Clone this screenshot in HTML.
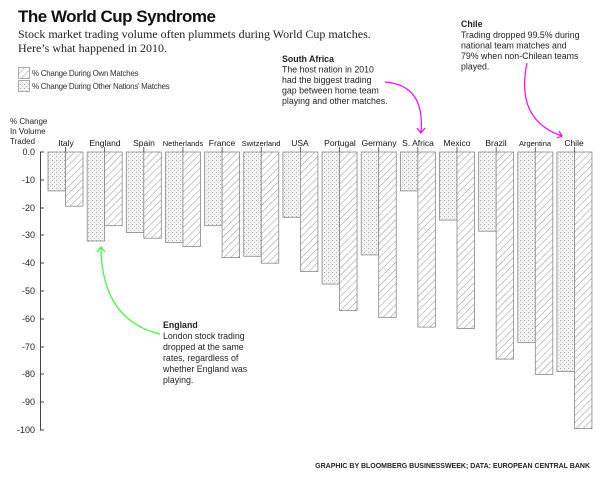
<!DOCTYPE html>
<html><head><meta charset="utf-8"><style>
body{margin:0;background:#fff;}
svg{display:block;font-family:"Liberation Sans",sans-serif;}
</style></head><body>
<svg width="600" height="480" viewBox="0 0 600 480" xmlns="http://www.w3.org/2000/svg">
<defs>
<pattern id="dots" width="4" height="4" patternUnits="userSpaceOnUse">
<rect width="4" height="4" fill="#f3f3f3"/>
<rect x="0" y="0" width="1" height="1" fill="#aaa"/>
<rect x="2" y="2" width="1" height="1" fill="#c4c4c4"/>
</pattern>
<pattern id="hatch" width="5" height="5" patternUnits="userSpaceOnUse" patternTransform="rotate(45)">
<rect width="5" height="5" fill="#fff"/>
<line x1="0" y1="0" x2="0" y2="5" stroke="#999" stroke-width="1.1"/>
</pattern>
</defs>
<text x="18" y="22" font-size="17" font-weight="bold" fill="#111" letter-spacing="-0.5">The World Cup Syndrome</text>
<text x="18" y="38" font-size="12" font-family="Liberation Serif, serif" fill="#222">Stock market trading volume often plummets during World Cup matches.</text>
<text x="18" y="52" font-size="12" font-family="Liberation Serif, serif" fill="#222">Here’s what happened in 2010.</text>
<rect x="18.5" y="67.5" width="11" height="11" fill="url(#hatch)" stroke="#aaa"/>
<rect x="18.5" y="80.5" width="11" height="11" fill="url(#dots)" stroke="#aaa"/>
<text x="32" y="76" font-size="8" fill="#333" letter-spacing="-0.3">% Change During Own Matches</text>
<text x="32" y="89" font-size="8" fill="#333" letter-spacing="-0.3">% Change During Other Nations' Matches</text>

<g font-size="8" fill="#222">
<text x="10" y="124">% Change</text>
<text x="10" y="134">In Volume</text>
<text x="10" y="144">Traded</text>
</g>
<line x1="40.5" y1="152" x2="40.5" y2="430" stroke="#444"/>
<g font-size="9" fill="#222" text-anchor="end">
<text x="35" y="155">0.0</text><text x="35" y="183">-10</text><text x="35" y="211">-20</text><text x="35" y="238">-30</text><text x="35" y="266">-40</text><text x="35" y="294">-50</text><text x="35" y="322">-60</text><text x="35" y="350">-70</text><text x="35" y="377">-80</text><text x="35" y="405">-90</text><text x="35" y="433">-100</text>
</g>
<g stroke="#444">
<line x1="40" y1="152" x2="44" y2="152"/><line x1="40" y1="180" x2="44" y2="180"/><line x1="40" y1="208" x2="44" y2="208"/><line x1="40" y1="235" x2="44" y2="235"/><line x1="40" y1="263" x2="44" y2="263"/><line x1="40" y1="291" x2="44" y2="291"/><line x1="40" y1="319" x2="44" y2="319"/><line x1="40" y1="347" x2="44" y2="347"/><line x1="40" y1="374" x2="44" y2="374"/><line x1="40" y1="402" x2="44" y2="402"/><line x1="40" y1="430" x2="44" y2="430"/>
</g>

<g stroke="#888" stroke-width="0.8">
<rect x="48" y="152" width="17.5" height="38.9" fill="url(#dots)"/><rect x="65.5" y="152" width="17.5" height="54.2" fill="url(#hatch)"/>
<rect x="87.15" y="152" width="17.5" height="89.0" fill="url(#dots)"/><rect x="104.65" y="152" width="17.5" height="73.7" fill="url(#hatch)"/>
<rect x="126.3" y="152" width="17.5" height="80.6" fill="url(#dots)"/><rect x="143.8" y="152" width="17.5" height="86.2" fill="url(#hatch)"/>
<rect x="165.45" y="152" width="17.5" height="90.4" fill="url(#dots)"/><rect x="182.95" y="152" width="17.5" height="94.5" fill="url(#hatch)"/>
<rect x="204.6" y="152" width="17.5" height="73.7" fill="url(#dots)"/><rect x="222.1" y="152" width="17.5" height="105.6" fill="url(#hatch)"/>
<rect x="243.75" y="152" width="17.5" height="104.3" fill="url(#dots)"/><rect x="261.25" y="152" width="17.5" height="111.2" fill="url(#hatch)"/>
<rect x="282.9" y="152" width="17.5" height="65.3" fill="url(#dots)"/><rect x="300.4" y="152" width="17.5" height="119.5" fill="url(#hatch)"/>
<rect x="322.05" y="152" width="17.5" height="132.1" fill="url(#dots)"/><rect x="339.55" y="152" width="17.5" height="158.5" fill="url(#hatch)"/>
<rect x="361.2" y="152" width="17.5" height="102.9" fill="url(#dots)"/><rect x="378.7" y="152" width="17.5" height="165.4" fill="url(#hatch)"/>
<rect x="400.35" y="152" width="17.5" height="38.9" fill="url(#dots)"/><rect x="417.85" y="152" width="17.5" height="175.1" fill="url(#hatch)"/>
<rect x="439.5" y="152" width="17.5" height="68.1" fill="url(#dots)"/><rect x="457" y="152" width="17.5" height="176.5" fill="url(#hatch)"/>
<rect x="478.65" y="152" width="17.5" height="79.2" fill="url(#dots)"/><rect x="496.15" y="152" width="17.5" height="207.1" fill="url(#hatch)"/>
<rect x="517.8" y="152" width="17.5" height="190.4" fill="url(#dots)"/><rect x="535.3" y="152" width="17.5" height="222.4" fill="url(#hatch)"/>
<rect x="556.95" y="152" width="17.5" height="219.6" fill="url(#dots)"/><rect x="574.45" y="152" width="17.5" height="276.6" fill="url(#hatch)"/>
</g>
<g stroke="#444" stroke-width="0.8">
<line x1="65.5" y1="147" x2="65.5" y2="152"/><line x1="104.65" y1="147" x2="104.65" y2="152"/><line x1="143.8" y1="147" x2="143.8" y2="152"/><line x1="182.95" y1="147" x2="182.95" y2="152"/><line x1="222.1" y1="147" x2="222.1" y2="152"/><line x1="261.25" y1="147" x2="261.25" y2="152"/><line x1="300.4" y1="147" x2="300.4" y2="152"/><line x1="339.55" y1="147" x2="339.55" y2="152"/><line x1="378.7" y1="147" x2="378.7" y2="152"/><line x1="417.85" y1="147" x2="417.85" y2="152"/><line x1="457" y1="147" x2="457" y2="152"/><line x1="496.15" y1="147" x2="496.15" y2="152"/><line x1="535.3" y1="147" x2="535.3" y2="152"/><line x1="574.45" y1="147" x2="574.45" y2="152"/>
</g>
<g font-size="8.5" fill="#111" text-anchor="middle">
<text x="66" y="146">Italy</text><text x="105" y="146">England</text><text x="144" y="146">Spain</text><text x="183" y="146" font-size="7.5">Netherlands</text><text x="222" y="146">France</text><text x="261" y="146" font-size="7.5">Switzerland</text><text x="300" y="146">USA</text><text x="340" y="146">Portugal</text><text x="379" y="146">Germany</text><text x="418" y="146">S. Africa</text><text x="457" y="146">Mexico</text><text x="496" y="146">Brazil</text><text x="535" y="146" font-size="7.5">Argentina</text><text x="574" y="146">Chile</text>
</g>

<g font-size="8.8" fill="#222">
<text x="461" y="27" font-weight="bold">Chile</text>
<text x="461" y="38">Trading dropped 99.5% during</text>
<text x="461" y="48.5">national team matches and</text>
<text x="461" y="59">79% when non-Chilean teams</text>
<text x="461" y="69.5">played.</text>
<text x="282" y="62" font-weight="bold">South Africa</text>
<text x="282" y="72.5">The host nation in 2010</text>
<text x="282" y="83">had the biggest trading</text>
<text x="282" y="93.5">gap between home team</text>
<text x="282" y="104">playing and other matches.</text>
<text x="163" y="328" font-weight="bold">England</text>
<text x="163" y="339">London stock trading</text>
<text x="163" y="350">dropped at the same</text>
<text x="163" y="361">rates, regardless of</text>
<text x="163" y="372">whether England was</text>
<text x="163" y="383">playing.</text>
</g>
<g fill="none" stroke-width="1.2">
<path d="M385 82 Q425 85 421 132" stroke="#f0f"/>
<path d="M417 128 L421 133 L425 128" stroke="#f0f"/>
<path d="M527 63 Q515 120 562 136" stroke="#f0f"/>
<path d="M557 138 L562 136 L559 131" stroke="#f0f"/>
<path d="M160 334 Q102 320 101 248" stroke="#3f3"/>
<path d="M97 252 L101 247 L105 252" stroke="#3f3"/>
</g>
<text x="590" y="468" font-size="7" font-weight="bold" fill="#222" text-anchor="end">GRAPHIC BY BLOOMBERG BUSINESSWEEK; DATA: EUROPEAN CENTRAL BANK</text>
</svg>
</body></html>
